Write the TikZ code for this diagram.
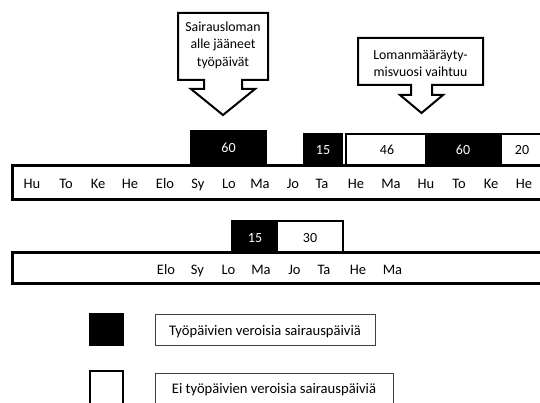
\documentclass[tikz,border=0pt]{standalone}
\usepackage{fontspec}
\setmainfont{Carlito}
\newlength{\du}
\setlength{\du}{1\unitlength}
\tikzset{
  daytext/.style={inner sep=0pt, anchor=base, font=\fontsize{14.5}{16}\selectfont},
  numtext/.style={inner sep=0pt, anchor=base, font=\fontsize{14}{16}\selectfont},
  calltext/.style={inner sep=0pt, align=center, font=\fontsize{13.8}{17.5}\selectfont},
  legtext/.style={inner sep=0pt, anchor=base, font=\fontsize{14.6}{16}\selectfont},
}
\begin{document}
\begin{tikzpicture}
\pgftransformxscale{1.000000}
\pgftransformyscale{-1.000000}
\useasboundingbox (0.000000\du,0.000000\du) rectangle (540.000000\du,403.000000\du);
\clip (0.000000\du,0.000000\du) rectangle (540.000000\du,403.000000\du);
\definecolor{dialinecolor}{rgb}{0.000000, 0.000000, 0.000000}
\pgfsetstrokecolor{dialinecolor}
\pgfsetmiterjoin
% callout 1
\pgfsetlinewidth{2.000000\du}
\filldraw[fill=white] (178.000000\du,13.000000\du)--(268.000000\du,13.000000\du)--(268.000000\du,80.000000\du)--(242.000000\du,80.000000\du)--(242.000000\du,89.000000\du)--(255.000000\du,89.000000\du)--(223.000000\du,115.000000\du)--(191.000000\du,89.000000\du)--(204.000000\du,89.000000\du)--(204.000000\du,80.000000\du)--(178.000000\du,80.000000\du)--cycle;
\node[calltext] (call1) at (223.000000\du,45.000000\du){Sairausloman\\alle jääneet\\työpäivät};
% callout 2
\filldraw[fill=white] (358.000000\du,38.000000\du)--(483.000000\du,38.000000\du)--(483.000000\du,85.000000\du)--(432.000000\du,85.000000\du)--(432.000000\du,95.000000\du)--(443.000000\du,95.000000\du)--(421.500000\du,113.000000\du)--(400.000000\du,95.000000\du)--(411.000000\du,95.000000\du)--(411.000000\du,85.000000\du)--(358.000000\du,85.000000\du)--cycle;
\node[calltext] (call2) at (420.500000\du,63.500000\du){Lomanmääräyty-\\misvuosi vaihtuu};
% upper row blocks
\definecolor{dialinecolor}{rgb}{0.000000, 0.000000, 0.000000}
\pgfsetfillcolor{dialinecolor}
\fill (190.000000\du,130.000000\du)--(267.000000\du,130.000000\du)--(267.000000\du,166.000000\du)--(190.000000\du,166.000000\du)--cycle;
\fill (303.000000\du,133.000000\du)--(343.000000\du,133.000000\du)--(343.000000\du,166.000000\du)--(303.000000\du,166.000000\du)--cycle;
\fill (426.000000\du,133.000000\du)--(500.000000\du,133.000000\du)--(500.000000\du,166.000000\du)--(426.000000\du,166.000000\du)--cycle;
\pgfsetlinewidth{2.000000\du}
\filldraw[fill=white] (345.500000\du,134.000000\du)--(426.000000\du,134.000000\du)--(426.000000\du,166.000000\du)--(345.500000\du,166.000000\du)--cycle;
\filldraw[fill=white] (501.000000\du,134.000000\du)--(560.000000\du,134.000000\du)--(560.000000\du,166.000000\du)--(501.000000\du,166.000000\du)--cycle;
\node[numtext, text=white] (up60a) at (228.500000\du,152.500000\du){60};
\node[numtext, text=white] (up15) at (323.000000\du,154.500000\du){15};
\node[numtext] (up46) at (387.000000\du,154.500000\du){46};
\node[numtext, text=white] (up60b) at (463.000000\du,154.500000\du){60};
\node[numtext] (up20) at (522.000000\du,154.500000\du){20};
% upper row bar
\pgfsetlinewidth{3.000000\du}
\draw (12.000000\du,166.000000\du)--(560.000000\du,166.000000\du)--(560.000000\du,200.000000\du)--(12.000000\du,200.000000\du)--cycle;
\node[daytext] (ua) at (32.000000\du,188.500000\du){Hu};
\node[daytext] (ub) at (66.000000\du,188.500000\du){To};
\node[daytext] (uc) at (98.000000\du,188.500000\du){Ke};
\node[daytext] (ud) at (130.000000\du,188.500000\du){He};
\node[daytext] (ue) at (165.000000\du,188.500000\du){Elo};
\node[daytext] (uf) at (198.000000\du,188.500000\du){Sy};
\node[daytext] (ug) at (229.000000\du,188.500000\du){Lo};
\node[daytext] (uh) at (260.000000\du,188.500000\du){Ma};
\node[daytext] (ui) at (293.000000\du,188.500000\du){Jo};
\node[daytext] (uj) at (322.000000\du,188.500000\du){Ta};
\node[daytext] (uk) at (356.000000\du,188.500000\du){He};
\node[daytext] (ul) at (391.000000\du,188.500000\du){Ma};
\node[daytext] (um) at (426.000000\du,188.500000\du){Hu};
\node[daytext] (un) at (459.000000\du,188.500000\du){To};
\node[daytext] (uo) at (491.000000\du,188.500000\du){Ke};
\node[daytext] (up) at (524.000000\du,188.500000\du){He};
% lower row blocks
\fill (231.000000\du,221.000000\du)--(278.000000\du,221.000000\du)--(278.000000\du,252.000000\du)--(231.000000\du,252.000000\du)--cycle;
\pgfsetlinewidth{2.000000\du}
\draw (231.000000\du,221.000000\du)--(343.000000\du,221.000000\du)--(343.000000\du,252.000000\du);
\node[numtext, text=white] (lo15) at (255.000000\du,242.000000\du){15};
\node[numtext] (lo30) at (310.000000\du,242.000000\du){30};
% lower row bar
\pgfsetlinewidth{3.000000\du}
\draw (12.000000\du,252.000000\du)--(560.000000\du,252.000000\du)--(560.000000\du,283.000000\du)--(12.000000\du,283.000000\du)--cycle;
\node[daytext] (la) at (166.000000\du,274.000000\du){Elo};
\node[daytext] (lb) at (197.500000\du,274.000000\du){Sy};
\node[daytext] (lc) at (228.500000\du,274.000000\du){Lo};
\node[daytext] (ld) at (261.000000\du,274.000000\du){Ma};
\node[daytext] (le) at (294.500000\du,274.000000\du){Jo};
\node[daytext] (lf) at (324.000000\du,274.000000\du){Ta};
\node[daytext] (lg) at (358.000000\du,274.000000\du){He};
\node[daytext] (lh) at (392.500000\du,274.000000\du){Ma};
% legend
\fill (89.000000\du,313.000000\du)--(124.000000\du,313.000000\du)--(124.000000\du,346.000000\du)--(89.000000\du,346.000000\du)--cycle;
\pgfsetlinewidth{2.500000\du}
\draw (90.000000\du,371.000000\du)--(123.000000\du,371.000000\du)--(123.000000\du,420.000000\du)--(90.000000\du,420.000000\du)--cycle;
\pgfsetlinewidth{1.000000\du}
\definecolor{dialinecolor}{rgb}{0.250000, 0.250000, 0.250000}
\pgfsetstrokecolor{dialinecolor}
\draw (155.000000\du,314.000000\du)--(375.000000\du,314.000000\du)--(375.000000\du,345.000000\du)--(155.000000\du,345.000000\du)--cycle;
\draw (155.000000\du,373.000000\du)--(393.000000\du,373.000000\du)--(393.000000\du,420.000000\du)--(155.000000\du,420.000000\du)--cycle;
\node[legtext] (leg1) at (265.000000\du,335.000000\du){Työpäivien veroisia sairauspäiviä};
\node[legtext] (leg2) at (274.000000\du,393.000000\du){Ei työpäivien veroisia sairauspäiviä};
\end{tikzpicture}
\end{document}
